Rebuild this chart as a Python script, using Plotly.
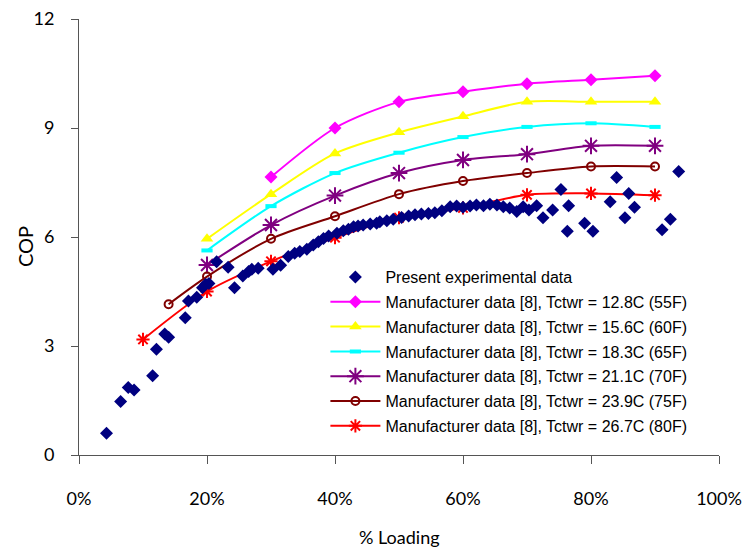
import plotly.graph_objects as go

# ---------------- data ----------------
exp_load = [4.3, 6.5, 7.7, 8.6, 11.5, 12.1, 13.4, 14.0, 16.6, 17.1, 18.4, 19.3, 19.8, 20.3,
            21.5, 23.3, 24.3, 25.6, 26.5, 27.0, 28.0, 30.3, 31.5, 32.7, 33.7, 34.5, 35.6,
            36.6, 37.4, 38.2, 39.0, 40.3, 41.3, 42.1, 42.9, 43.6, 44.4, 45.5, 46.5, 47.0,
            48.1, 49.1, 50.4, 51.5, 52.5, 53.5, 54.6, 55.6, 56.7, 58.0, 59.0, 60.0, 61.1,
            62.1, 63.2, 64.2, 65.3, 66.3, 67.3, 68.4, 69.4, 70.3, 71.5, 72.5, 74.0, 75.3,
            76.3, 76.5, 79.0, 80.3, 83.0, 84.0, 85.3, 85.9, 86.8, 91.1, 92.4, 93.7]
exp_cop = [0.60, 1.47, 1.86, 1.79, 2.18, 2.91, 3.33, 3.24, 3.78, 4.24, 4.34, 4.60, 4.70, 4.72,
           5.32, 5.17, 4.60, 4.93, 5.05, 5.11, 5.14, 5.11, 5.22, 5.46, 5.55, 5.60, 5.66,
           5.78, 5.87, 5.96, 6.03, 6.10, 6.17, 6.21, 6.28, 6.30, 6.33, 6.36, 6.38, 6.42,
           6.45, 6.49, 6.54, 6.58, 6.61, 6.63, 6.65, 6.67, 6.72, 6.83, 6.85, 6.82, 6.85,
           6.88, 6.86, 6.90, 6.88, 6.83, 6.80, 6.70, 6.83, 6.74, 6.86, 6.53, 6.74, 7.31,
           6.16, 6.86, 6.38, 6.16, 6.97, 7.64, 6.53, 7.20, 6.82, 6.20, 6.49, 7.80]

load_55 = [30, 40, 50, 60, 70, 80, 90]
cop_55 = [7.65, 9.0, 9.72, 10.0, 10.22, 10.33, 10.44]

load_60 = [20, 30, 40, 50, 60, 70, 80, 90]
cop_60 = [5.95, 7.18, 8.3, 8.88, 9.32, 9.72, 9.72, 9.72]

load_65 = [20, 30, 40, 50, 60, 70, 80, 90]
cop_65 = [5.63, 6.85, 7.76, 8.32, 8.75, 9.03, 9.13, 9.03]

load_70 = [20, 30, 40, 50, 60, 70, 80, 90]
cop_70 = [5.23, 6.33, 7.14, 7.76, 8.12, 8.28, 8.51, 8.51]

load_75 = [14, 20, 30, 40, 50, 60, 70, 80, 90]
cop_75 = [4.15, 4.91, 5.95, 6.57, 7.18, 7.54, 7.76, 7.94, 7.94]

load_80 = [10, 20, 30, 40, 50, 60, 70, 80, 90]
cop_80 = [3.18, 4.5, 5.33, 5.98, 6.53, 6.8, 7.16, 7.2, 7.15]

x_ticks = [0, 20, 40, 60, 80, 100]
y_ticks = [0, 3, 6, 9, 12]

names = ["Present experimental data",
         "Manufacturer data [8], Tctwr = 12.8C (55F)",
         "Manufacturer data [8], Tctwr = 15.6C (60F)",
         "Manufacturer data [8], Tctwr = 18.3C (65F)",
         "Manufacturer data [8], Tctwr = 21.1C (70F)",
         "Manufacturer data [8], Tctwr = 23.9C (75F)",
         "Manufacturer data [8], Tctwr = 26.7C (80F)"]

# ---------------- figure ----------------
fig = go.Figure()

series = [
    (load_55, cop_55, "#FF00FF", dict(symbol="diamond", size=10, color="#FF00FF")),
    (load_60, cop_60, "#FFFF00", dict(symbol="triangle-up", size=11, color="#FFFF00")),
    (load_65, cop_65, "#00FFFF", dict(symbol="line-ew", size=8, color="#00FFFF",
                                      line=dict(color="#00FFFF", width=4))),
    (load_70, cop_70, "#800080", dict(symbol="asterisk", size=14, color="#800080",
                                      line=dict(color="#800080", width=2))),
    (load_75, cop_75, "#800000", dict(symbol="circle-open", size=8, color="#800000",
                                      line=dict(color="#800000", width=2))),
    (load_80, cop_80, "#FF0000", dict(symbol="asterisk", size=11, color="#FF0000",
                                      line=dict(color="#FF0000", width=2))),
]

for i, (xs, ys, col, mk) in enumerate(series):
    fig.add_trace(go.Scatter(
        x=xs, y=ys, mode="lines+markers", name=names[i + 1],
        line=dict(color=col, width=2, shape="spline", smoothing=0.8),
        marker=mk, legendgroup=f"g{i+1}", legendrank=i + 2,
    ))

fig.add_trace(go.Scatter(
    x=exp_load, y=exp_cop, mode="markers", name=names[0],
    marker=dict(symbol="diamond", size=10, color="#000080"),
    legendgroup="g0", legendrank=1,
))

tick_font = dict(family="Lato, DejaVu Sans, sans-serif", size=18, color="#000000")

L, R, T, B = 79, 30, 19, 95
pw, ph = 749 - L - R, 550 - T - B

fig.update_layout(
    width=749, height=550,
    paper_bgcolor="white", plot_bgcolor="white",
    margin=dict(l=L, r=R, t=T, b=B),
    showlegend=True,
    legend=dict(
        x=0.385, y=0.447, xanchor="left", yanchor="top",
        bgcolor="rgba(0,0,0,0)", borderwidth=0,
        font=dict(family="Liberation Sans, Arial, sans-serif", size=16, color="#000000"),
        itemwidth=50, tracegroupgap=1, traceorder="grouped",
    ),
    xaxis=dict(
        range=[0, 100], tickvals=x_ticks, ticktext=[f"{v}%" for v in x_ticks],
        showline=True, linecolor="#555555", linewidth=1,
        ticks="outside", ticklen=8, tickcolor="#555555",
        showgrid=False, zeroline=False, tickfont=tick_font,
        ticklabelstandoff=19, automargin=False,
    ),
    yaxis=dict(
        range=[0, 12], tickvals=y_ticks,
        showline=True, linecolor="#555555", linewidth=1,
        ticks="outside", ticklen=7, tickcolor="#555555",
        showgrid=False, zeroline=False, tickfont=tick_font,
        ticklabelstandoff=13, automargin=False,
    ),
    annotations=[
        dict(text="% Loading", xref="paper", yref="paper",
             x=0.5, y=(455 - 537) / ph, xanchor="center", yanchor="middle",
             showarrow=False, font=tick_font),
        dict(text="COP", xref="paper", yref="paper",
             x=(25 - 79) / pw, y=(455 - 247) / ph, xanchor="center", yanchor="middle",
             showarrow=False, textangle=-90,
             font=dict(family="Lato, DejaVu Sans, sans-serif", size=20, color="#000000")),
    ],
)

fig.write_html("out.html", config={"displayModeBar": False},
               post_script="document.body.style.margin='0';document.body.style.overflow='hidden';")
